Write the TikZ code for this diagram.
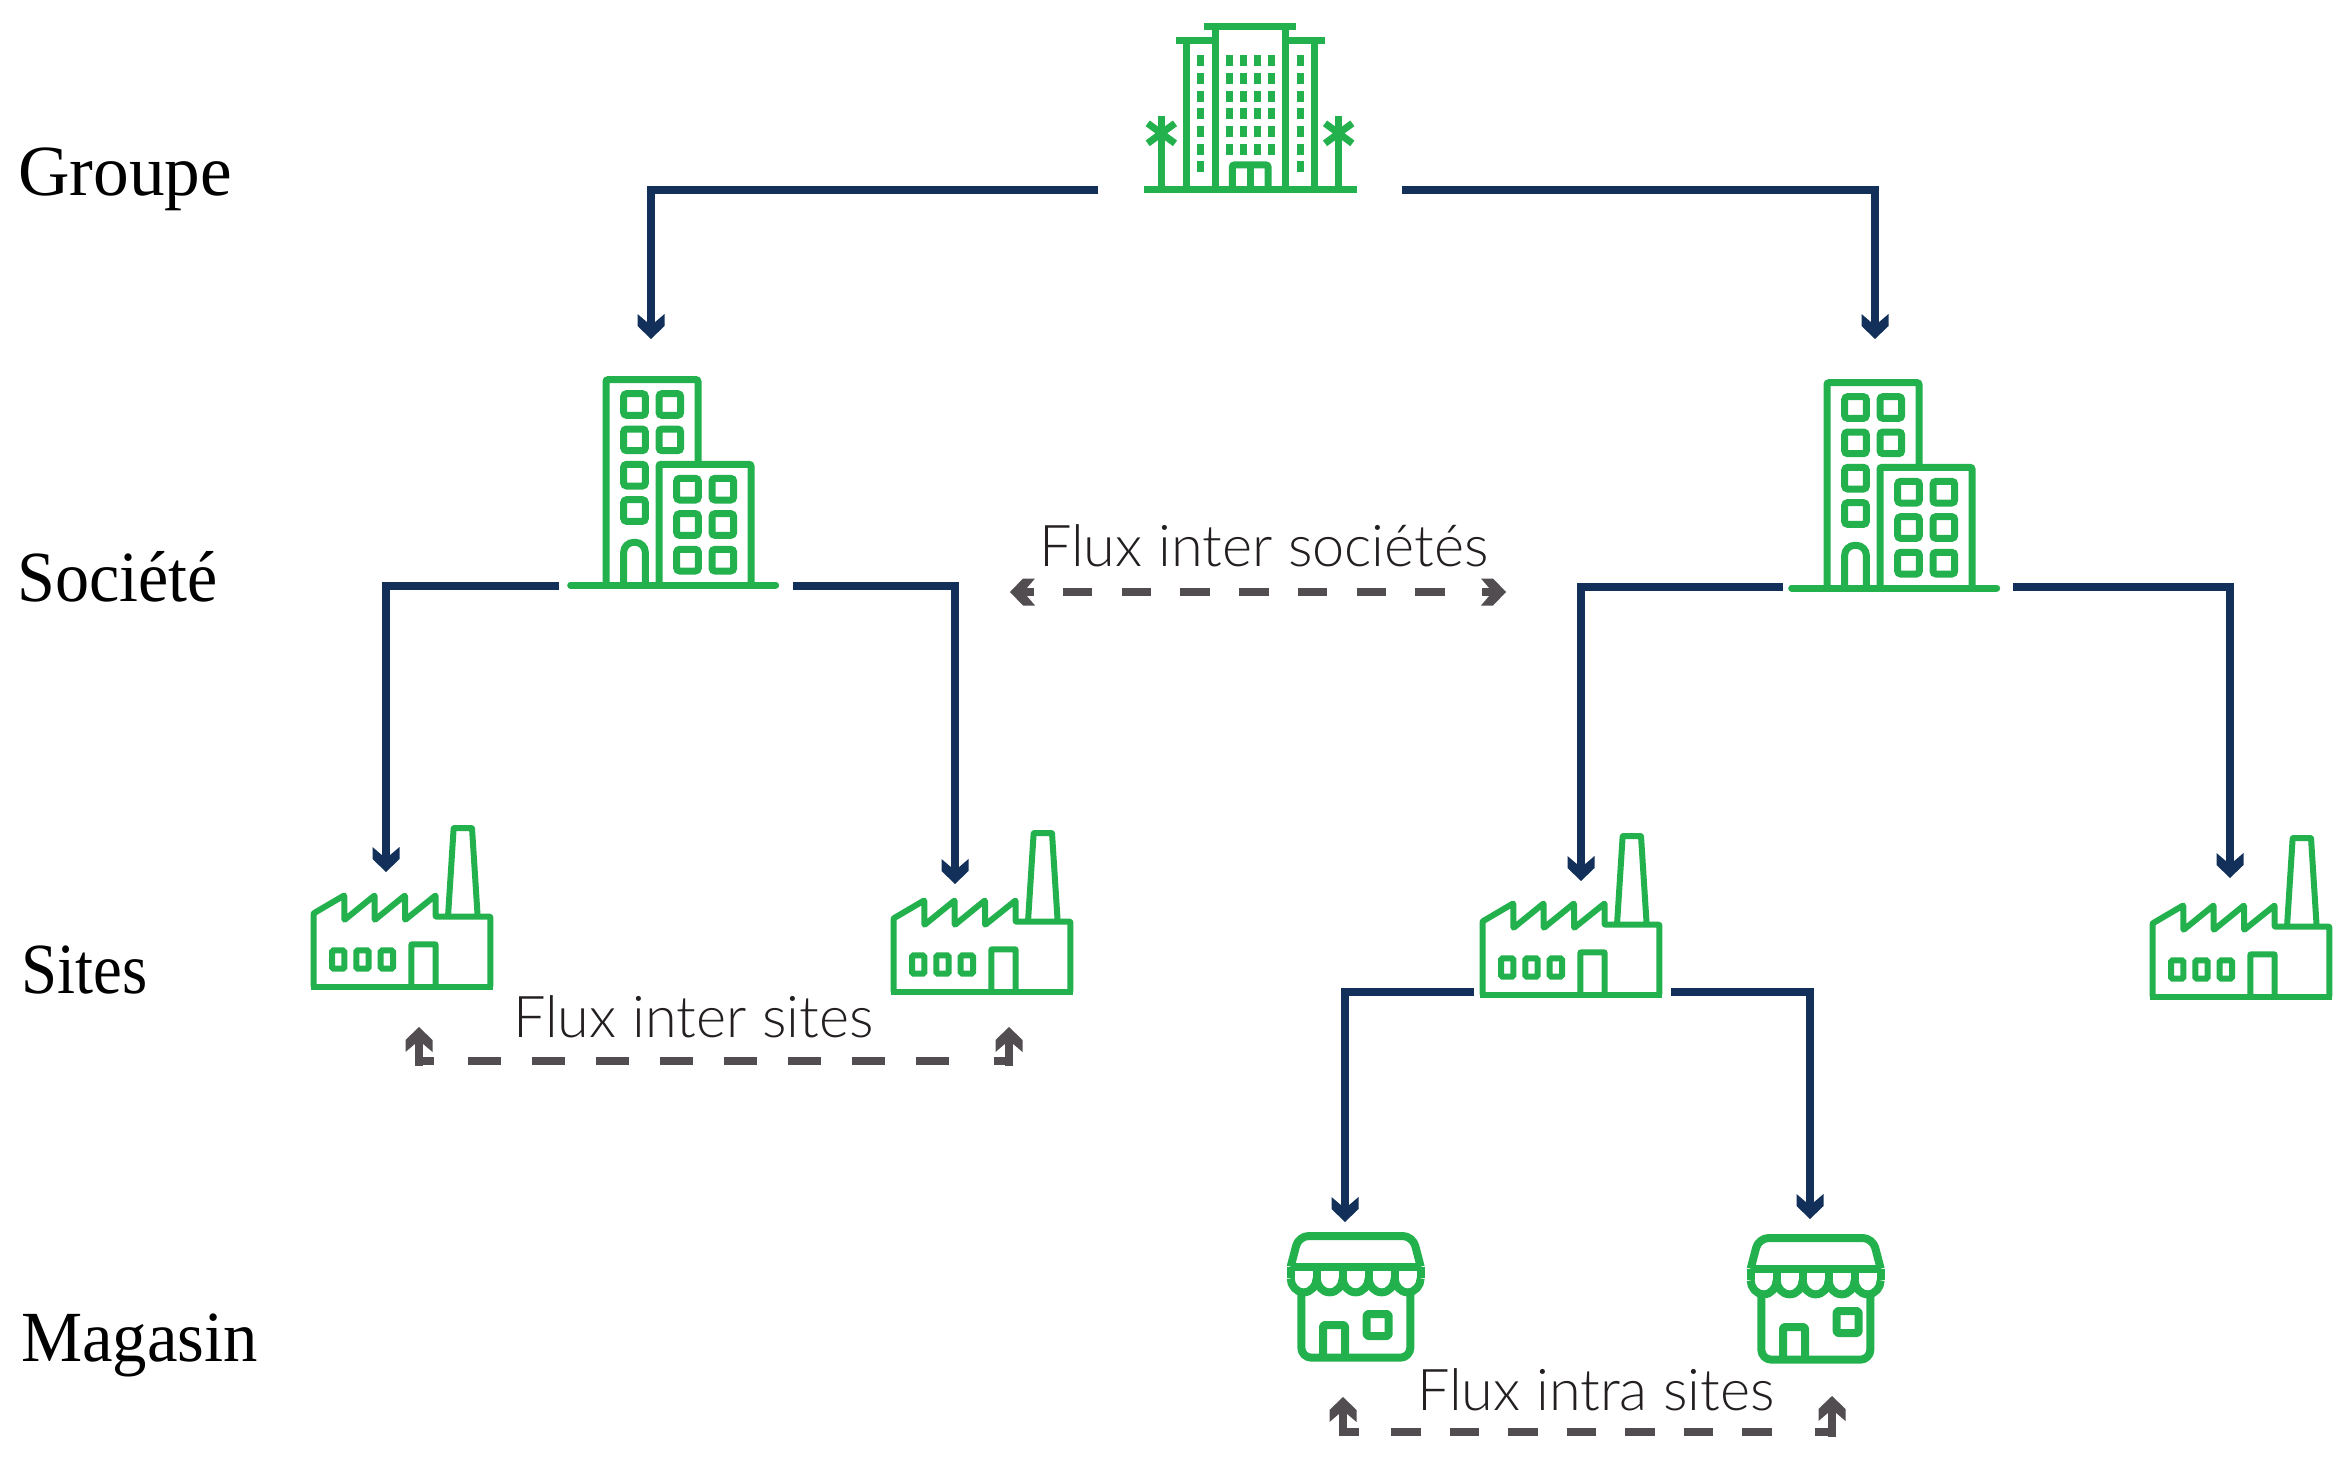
\documentclass[tikz,border=0pt]{standalone}
\usepackage{graphicx}
\usepackage{fontspec}
\usetikzlibrary{arrows.meta}
\setmainfont{Liberation Serif}
\newfontfamily\fluxfont{Lato Light}
\definecolor{iconGreen}{HTML}{22B14C}
\definecolor{linkNavy}{HTML}{12305A}
\definecolor{fluxGray}{HTML}{514D50}
\definecolor{fluxText}{HTML}{231F20}
\pgfdeclarearrow{
  name=Chev,
  setup code={
    \pgfarrowssettipend{0pt}
    \pgfarrowssetlineend{-15pt}
    \pgfarrowssetbackend{-25pt}
    \pgfarrowssetvisualbackend{-15pt}
  },
  drawing code={
    \pgfpathmoveto{\pgfpoint{0pt}{0pt}}
    \pgfpathlineto{\pgfpoint{-13pt}{13.5pt}}
    \pgfpathlineto{\pgfpoint{-25pt}{13.5pt}}
    \pgfpathlineto{\pgfpoint{-16pt}{3pt}}
    \pgfpathlineto{\pgfpoint{-16pt}{-3pt}}
    \pgfpathlineto{\pgfpoint{-25pt}{-13.5pt}}
    \pgfpathlineto{\pgfpoint{-13pt}{-13.5pt}}
    \pgfpathclose
    \pgfusepathqfill
  },
}
\tikzset{
  zoomunits/.style={x=0.33333pt,y=-0.33333pt},
  hotelline/.style={draw=iconGreen,line width=7pt},
  bline/.style={draw=iconGreen,line width=7pt,rounded corners=2pt},
  bwin/.style={draw=iconGreen,line width=7pt,rounded corners=3pt},
  fline/.style={draw=iconGreen,line width=6pt,rounded corners=0.5pt,line join=round},
  sline/.style={draw=iconGreen,line width=8pt,line join=round},
  link/.style={draw=linkNavy,line width=7.8pt,-Chev},
  fluxdash/.style={draw=fluxGray,line width=8.5pt},
  fluxstem/.style={draw=fluxGray,line width=8pt,-Chev},
  levellabel/.style={anchor=base west,inner sep=0pt,text=black,font=\fontsize{72}{82}\selectfont},
  fluxlabel/.style={anchor=base west,inner sep=0pt,text=fluxText,font=\fluxfont\fontsize{57.6}{66}\selectfont},
  pics/hotelicon/.style={code={
    \begin{scope}[zoomunits]
      \draw[hotelline] (132,570)--(770,570) (313,80)--(588,80) (345,80)--(345,570) (557,80)--(557,570)
        (228,122)--(345,122) (557,122)--(674,122) (259,122)--(259,570) (643,122)--(643,570);
      \draw[hotelline,rounded corners=2pt] (397,570)--(397,495)--(504,495)--(504,570);
      \draw[hotelline] (450,495)--(450,570);
      \foreach \px in {184,716}{
        \draw[hotelline] (\px,347)--(\px,570);
        \draw[hotelline] ({\px-41},370)--({\px+41},430) ({\px-41},430)--({\px+41},370);
      }
      \foreach \wy in {165,219,273,324,378,432,483}{
        \fill[iconGreen] (291,\wy) rectangle ++(21,33);
        \fill[iconGreen] (590,\wy) rectangle ++(21,33);
      }
      \foreach \wy in {165,219,273,324,378,432}{
        \foreach \wx in {378,420,462,504}{
          \fill[iconGreen] (\wx,\wy) rectangle ++(21,33);
        }
      }
    \end{scope}
  }},
  pics/buildingicon/.style={code={
    \begin{scope}[zoomunits]
      \draw[bline,line cap=round] (62,675)--(677,675);
      \draw[bline] (168,675)--(168,59)--(444,59)--(444,312);
      \draw[bline] (327,675)--(327,313)--(603,313)--(603,675);
      \foreach \wx/\wy in {221/101,327/101,221/207,327/207,221/313,221/419,380/355,486/355,380/461,486/461,380/568,486/568}{
        \draw[bwin] (\wx,\wy) rectangle ++(65,65);
      }
      \draw[draw=iconGreen,line width=7pt,rounded corners=10pt] (221,675)--(221,547)--(286,547)--(286,675);
    \end{scope}
  }},
  pics/factoryicon/.style={code={
    \begin{scope}[zoomunits]
      \draw[fline] (71,530)--(71,310)--(163,256)--(163,330)--(254,256)--(254,330)--(345,256)--(345,330)--(437,256)--(437,320)--(601,320)--(601,530);
      \draw[draw=iconGreen,line width=6pt] (62,530)--(610,530);
      \draw[fline] (474,320)--(491,54)--(546,54)--(563,320);
      \draw[fline] (364,530)--(364,403)--(437,403)--(437,530);
      \foreach \wx in {126,199,272}{
        \draw[draw=iconGreen,line width=6pt,rounded corners=1.5pt] (\wx,421) rectangle ++(37,55);
      }
    \end{scope}
  }},
  pics/storeicon/.style 2 args={code={
    \begin{scope}[zoomunits]
      \draw[sline,rounded corners=10pt] (62,170)--(86,78)--(428,78)--(452,170);
      \draw[sline] (62,170)--(452,170);
      \draw[sline] (62,170)--(62,205);
      \foreach \sx in {62,140,218,296,374}{
        \draw[sline] (\sx,205) .. controls (\sx,227) and ({\sx+17},247) .. ({\sx+39},247) .. controls ({\sx+61},247) and ({\sx+78},227) .. ({\sx+78},205);
        \draw[sline] ({\sx+78},170)--({\sx+78},205);
      }
      \draw[sline,rounded corners=10pt] (94,250)--(94,443)--(421,443)--(421,250);
      \draw[sline,rounded corners=2pt] (159,443)--(159,345)--(225,345)--(225,443);
      \draw[sline,rounded corners=2pt] (#1,#2) rectangle ++(66,66);
    \end{scope}
  }},
}
\begin{document}
\begin{tikzpicture}[x=1pt,y=-1pt]
\useasboundingbox (0,0) rectangle (2343,1458);
% icons
\pic (hotel) at (1100,0) {hotelicon};
\pic (soc1) at (550,360) {buildingicon};
\pic (soc2) at (1771,363) {buildingicon};
\pic (fac1) at (290,810) {factoryicon};
\pic (fac2) at (870,815) {factoryicon};
\pic (fac3) at (1459,818) {factoryicon};
\pic (fac4) at (2129,820) {factoryicon};
\pic (sto1) at (1270,1210) {storeicon={290}{312}};
\pic (sto2) at (1730,1212) {storeicon={320}{297}};
% connector ends
\coordinate (hotelL) at (1098,190);
\coordinate (hotelR) at (1402,190);
\coordinate (soc1in) at (651,339);
\coordinate (soc2in) at (1875,339);
\coordinate (soc1L) at (559,586);
\coordinate (soc1R) at (793,586);
\coordinate (soc2L) at (1783,587);
\coordinate (soc2R) at (2013,587);
\coordinate (fac1in) at (386,872);
\coordinate (fac2in) at (955,884);
\coordinate (fac3in) at (1581,881);
\coordinate (fac4in) at (2230,878);
\coordinate (fac3L) at (1474,992);
\coordinate (fac3R) at (1671,992);
\coordinate (sto1in) at (1345,1222);
\coordinate (sto2in) at (1810,1219);
% navy connectors
\draw[link] (hotelL) -| (soc1in);
\draw[link] (hotelR) -| (soc2in);
\draw[link] (soc1L) -| (fac1in);
\draw[link] (soc1R) -| (fac2in);
\draw[link] (soc2L) -| (fac3in);
\draw[link] (soc2R) -| (fac4in);
\draw[link] (fac3L) -| (sto1in);
\draw[link] (fac3R) -| (sto2in);
% flux inter societes
\coordinate (fsTipL) at (1010,592);
\coordinate (fsTipR) at (1506,592);
\coordinate (fsStubL) at (1034,592);
\coordinate (fsStubR) at (1482,592);
\coordinate (fsA) at (1063,592);
\coordinate (fsB) at (1444.5,592);
\draw[fluxstem] (fsStubL) -- (fsTipL);
\draw[fluxstem] (fsStubR) -- (fsTipR);
\draw[fluxdash,dash pattern=on 29.4pt off 29.3pt] (fsA) -- (fsB);
% flux inter sites
\coordinate (isTipL) at (419,1027);
\coordinate (isTipR) at (1009,1027);
\coordinate (isFootL) at (419,1066);
\coordinate (isFootR) at (1009,1066);
\coordinate (isCornerL) at (419,1061);
\coordinate (isCornerR) at (1009,1061);
\coordinate (isShortL) at (433.5,1061);
\coordinate (isShortR) at (994,1061);
\coordinate (isA) at (468,1061);
\coordinate (isB) at (948.5,1061);
\draw[fluxstem] (isFootL) -- (isTipL);
\draw[fluxstem] (isFootR) -- (isTipR);
\draw[fluxdash] (isCornerL) -- (isShortL);
\draw[fluxdash] (isCornerR) -- (isShortR);
\draw[fluxdash,dash pattern=on 32.5pt off 31.5pt] (isA) -- (isB);
% flux intra sites
\coordinate (itTipL) at (1343,1397);
\coordinate (itTipR) at (1832,1396);
\coordinate (itFootL) at (1343,1436);
\coordinate (itFootR) at (1832,1437);
\coordinate (itCornerL) at (1343,1432);
\coordinate (itCornerR) at (1832,1432);
\coordinate (itShortL) at (1359,1432);
\coordinate (itShortR) at (1815,1432);
\coordinate (itA) at (1391,1432);
\coordinate (itB) at (1773,1432);
\draw[fluxstem] (itFootL) -- (itTipL);
\draw[fluxstem] (itFootR) -- (itTipR);
\draw[fluxdash] (itCornerL) -- (itShortL);
\draw[fluxdash] (itCornerR) -- (itShortR);
\draw[fluxdash,dash pattern=on 29.6pt off 28.9pt] (itA) -- (itB);
% labels
\node[levellabel] (lblGroupe) at (18,196) {\scalebox{0.99}[1]{Groupe}};
\node[levellabel] (lblSociete) at (17,601) {\scalebox{0.945}[1]{Société}};
\node[levellabel] (lblSites) at (21,993) {\scalebox{0.90}[1]{Sites}};
\node[levellabel] (lblMagasin) at (21,1361) {\scalebox{0.955}[1]{Magasin}};
\node[fluxlabel] (lblFs) at (1039,566) {Flux inter sociétés};
\node[fluxlabel] (lblIs) at (513,1037) {Flux inter sites};
\node[fluxlabel] (lblIt) at (1417,1410) {Flux intra sites};
\end{tikzpicture}
\end{document}
